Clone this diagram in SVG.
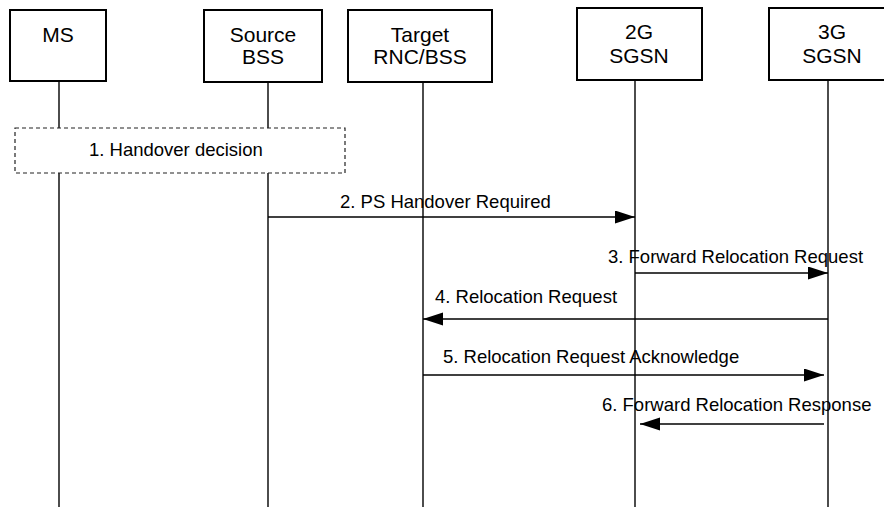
<svg xmlns="http://www.w3.org/2000/svg" width="884" height="507" viewBox="0 0 884 507">
<style>
.box{fill:#fff;stroke:#000;stroke-width:2}
.life{stroke:#000;stroke-width:1.4;fill:none}
.msg{stroke:#000;stroke-width:1.4;fill:none;marker-end:url(#ah)}
.nt{font-family:"Liberation Sans",Arial,sans-serif;font-size:21px;fill:#000;text-anchor:middle}
.mt{font-family:"Liberation Sans",Arial,sans-serif;font-size:18.5px;fill:#000}
.dash{fill:#fff;stroke:#222;stroke-width:1.2;stroke-dasharray:4,3}
</style>
<defs>
<marker id="ah" markerUnits="userSpaceOnUse" markerWidth="21" markerHeight="14" refX="20" refY="6.5" orient="auto">
<polygon points="0,0 20,6.5 0,13" fill="#000"/>
</marker>
</defs>
<rect width="884" height="507" fill="#fff"/>
<g id="lifelines">
<line class="life" x1="59" y1="82" x2="59" y2="507"/>
<line class="life" x1="268" y1="82" x2="268" y2="507"/>
<line class="life" x1="423" y1="82" x2="423" y2="507"/>
<line class="life" x1="635" y1="80" x2="635" y2="507"/>
<line class="life" x1="828" y1="80" x2="828" y2="507"/>
</g>
<g id="node-ms">
<rect class="box" x="10" y="10" width="96" height="71"/>
<text class="nt" x="58" y="42">MS</text>
</g>
<g id="node-source-bss">
<rect class="box" x="204" y="10" width="118" height="72"/>
<text class="nt" x="263" y="42">Source</text>
<text class="nt" x="263" y="64">BSS</text>
</g>
<g id="node-target">
<rect class="box" x="348" y="10" width="144" height="72"/>
<text class="nt" x="420" y="42">Target</text>
<text class="nt" x="420" y="64">RNC/BSS</text>
</g>
<g id="node-2g-sgsn">
<rect class="box" x="577" y="8" width="125" height="72"/>
<text class="nt" x="639" y="39">2G</text>
<text class="nt" x="639" y="63">SGSN</text>
</g>
<g id="node-3g-sgsn">
<rect class="box" x="769" y="8" width="126" height="72"/>
<text class="nt" x="832" y="39">3G</text>
<text class="nt" x="832" y="63">SGSN</text>
</g>
<g id="node-handover-decision">
<rect class="dash" x="15" y="128" width="330" height="45"/>
<text class="mt" x="89" y="156">1. Handover decision</text>
</g>
<g id="connectors">
<line class="msg" x1="268" y1="217" x2="635" y2="217"/>
<text class="mt" x="340" y="208">2. PS Handover Required</text>
<line class="msg" x1="635" y1="273" x2="828" y2="273"/>
<text class="mt" x="608" y="263">3. Forward Relocation Request</text>
<line class="msg" x1="828" y1="319" x2="423" y2="319"/>
<text class="mt" x="435" y="303">4. Relocation Request</text>
<line class="msg" x1="423" y1="375" x2="824" y2="375"/>
<text class="mt" x="443" y="363">5. Relocation Request Acknowledge</text>
<line class="msg" x1="824" y1="424" x2="640" y2="424"/>
<text class="mt" x="602" y="411">6. Forward Relocation Response</text>
</g>
</svg>
